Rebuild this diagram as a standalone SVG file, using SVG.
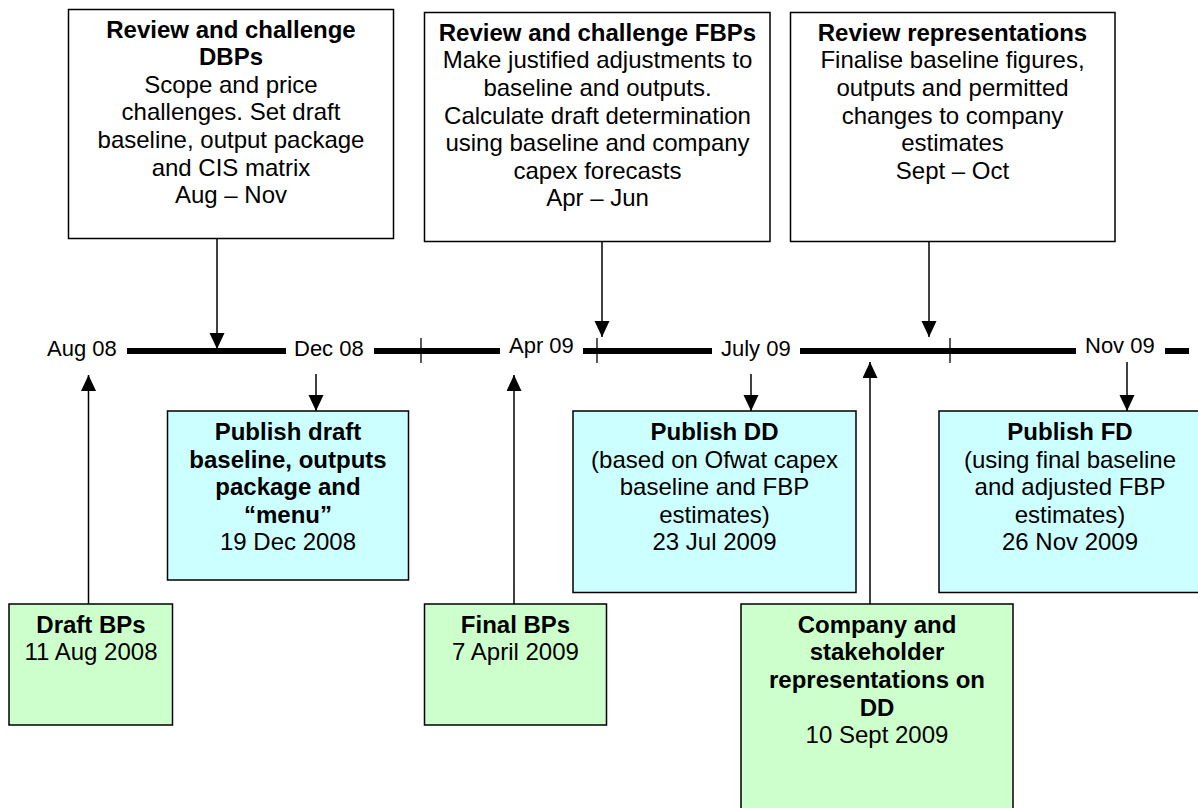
<svg xmlns="http://www.w3.org/2000/svg" width="1198" height="808" viewBox="0 0 1198 808">
<style>
  text { font-family: "Liberation Sans", Arial, sans-serif; font-size: 24px; fill: #000; text-anchor: middle; }
  .b { font-weight: bold; }
  .tl { font-size: 22px; text-anchor: start; }
  .box { fill: #fff; stroke: #000; stroke-width: 1.5; }
  .cyan { fill: #ccffff; stroke: #000; stroke-width: 1.5; }
  .green { fill: #ccffcc; stroke: #000; stroke-width: 1.5; }
  .axis { stroke: #000; stroke-width: 6; fill: none; }
  .tick { stroke: #000; stroke-width: 1.3; fill: none; }
  .conn { stroke: #000; stroke-width: 1.5; fill: none; }
</style>
<defs>
  <marker id="ah" markerUnits="userSpaceOnUse" markerWidth="16" markerHeight="16" refX="16" refY="7.5" orient="auto">
    <path d="M0,0 L16,7.5 L0,15 z" fill="#000"/>
  </marker>
</defs>

<g id="timeline">
  <text class="tl" x="47" y="356">Aug 08</text>
  <line class="axis" x1="127" y1="351" x2="286" y2="351"/>
  <text class="tl" x="294" y="356">Dec 08</text>
  <line class="axis" x1="374" y1="351" x2="500" y2="351"/>
  <line class="tick" x1="421" y1="338" x2="421" y2="363"/>
  <text class="tl" x="509" y="353">Apr 09</text>
  <line class="axis" x1="583" y1="351" x2="712" y2="351"/>
  <line class="tick" x1="597" y1="338" x2="597" y2="363"/>
  <text class="tl" x="721" y="356">July 09</text>
  <line class="axis" x1="800" y1="351" x2="1076" y2="351"/>
  <line class="tick" x1="950" y1="338" x2="950" y2="363"/>
  <text class="tl" x="1085" y="353">Nov 09</text>
  <line class="axis" x1="1165" y1="351" x2="1189" y2="351"/>
</g>

<g id="connectors">
  <line class="conn" x1="217" y1="238" x2="217" y2="349" marker-end="url(#ah)"/>
  <line class="conn" x1="602" y1="242" x2="602" y2="337" marker-end="url(#ah)"/>
  <line class="conn" x1="929" y1="242" x2="929" y2="337" marker-end="url(#ah)"/>
  <line class="conn" x1="316" y1="374" x2="316" y2="411" marker-end="url(#ah)"/>
  <line class="conn" x1="751" y1="374" x2="751" y2="411" marker-end="url(#ah)"/>
  <line class="conn" x1="1127" y1="362" x2="1127" y2="411" marker-end="url(#ah)"/>
  <line class="conn" x1="88.5" y1="604" x2="88.5" y2="375" marker-end="url(#ah)"/>
  <line class="conn" x1="514" y1="604" x2="514" y2="375" marker-end="url(#ah)"/>
  <line class="conn" x1="870" y1="604" x2="870" y2="362" marker-end="url(#ah)"/>
</g>

<g id="review-dbps">
  <rect class="box" x="68.5" y="9.5" width="325" height="229"/>
  <text class="b" x="231" y="37.5">Review and challenge</text>
  <text class="b" x="231" y="65.1">DBPs</text>
  <text x="231" y="92.7">Scope and price</text>
  <text x="231" y="120.3">challenges. Set draft</text>
  <text x="231" y="147.9">baseline, output package</text>
  <text x="231" y="175.5">and CIS matrix</text>
  <text x="231" y="203.1">Aug – Nov</text>
</g>

<g id="review-fbps">
  <rect class="box" x="424.5" y="12.5" width="345.5" height="229"/>
  <text class="b" x="597.5" y="40.7">Review and challenge FBPs</text>
  <text x="597.5" y="68.3">Make justified adjustments to</text>
  <text x="597.5" y="95.9">baseline and outputs.</text>
  <text x="597.5" y="123.5">Calculate draft determination</text>
  <text x="597.5" y="151.1">using baseline and company</text>
  <text x="597.5" y="178.7">capex forecasts</text>
  <text x="597.5" y="206.3">Apr – Jun</text>
</g>

<g id="review-reps">
  <rect class="box" x="790.5" y="12.5" width="324.5" height="229"/>
  <text class="b" x="952.5" y="40.7">Review representations</text>
  <text x="952.5" y="68.3">Finalise baseline figures,</text>
  <text x="952.5" y="95.9">outputs and permitted</text>
  <text x="952.5" y="123.5">changes to company</text>
  <text x="952.5" y="151.1">estimates</text>
  <text x="952.5" y="178.7">Sept – Oct</text>
</g>

<g id="publish-draft">
  <rect class="cyan" x="167.5" y="411" width="241" height="169"/>
  <text class="b" x="288" y="440">Publish draft</text>
  <text class="b" x="288" y="467.6">baseline, outputs</text>
  <text class="b" x="288" y="495.2">package and</text>
  <text class="b" x="288" y="522.8">“menu”</text>
  <text x="288" y="550.4">19 Dec 2008</text>
</g>

<g id="publish-dd">
  <rect class="cyan" x="573" y="411" width="283" height="181.5"/>
  <text class="b" x="714.5" y="440">Publish DD</text>
  <text x="714.5" y="467.6">(based on Ofwat capex</text>
  <text x="714.5" y="495.2">baseline and FBP</text>
  <text x="714.5" y="522.8">estimates)</text>
  <text x="714.5" y="550.4">23 Jul 2009</text>
</g>

<g id="publish-fd">
  <rect class="cyan" x="939" y="411" width="262" height="181.5"/>
  <text class="b" x="1070" y="440">Publish FD</text>
  <text x="1070" y="467.6">(using final baseline</text>
  <text x="1070" y="495.2">and adjusted FBP</text>
  <text x="1070" y="522.8">estimates)</text>
  <text x="1070" y="550.4">26 Nov 2009</text>
</g>

<g id="draft-bps">
  <rect class="green" x="9" y="604" width="163.5" height="121"/>
  <text class="b" x="91" y="632.7">Draft BPs</text>
  <text x="91" y="660.3">11 Aug 2008</text>
</g>

<g id="final-bps">
  <rect class="green" x="424.5" y="604" width="182" height="121"/>
  <text class="b" x="515.5" y="632.7">Final BPs</text>
  <text x="515.5" y="660.3">7 April 2009</text>
</g>

<g id="representations">
  <rect class="green" x="741" y="604" width="272" height="210"/>
  <text class="b" x="877" y="632.7">Company and</text>
  <text class="b" x="877" y="660.3">stakeholder</text>
  <text class="b" x="877" y="687.9">representations on</text>
  <text class="b" x="877" y="715.5">DD</text>
  <text x="877" y="743.1">10 Sept 2009</text>
</g>
</svg>
